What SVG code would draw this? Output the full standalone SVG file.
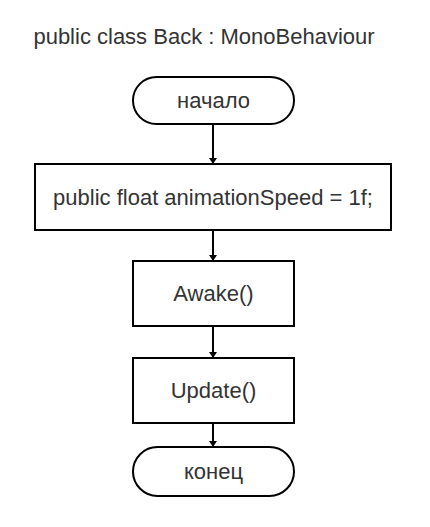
<svg xmlns="http://www.w3.org/2000/svg" width="430" height="527" viewBox="0 0 430 527">
<style>
.s{fill:#fff;stroke:#000;stroke-width:2}
.t{font-family:"Liberation Sans",Arial,sans-serif;font-size:22px;fill:#333;text-anchor:middle}
.c{stroke:#000;stroke-width:2;fill:none}
</style>
<defs>
<marker id="a" markerWidth="6" markerHeight="8" refX="5" refY="4" orient="auto" markerUnits="userSpaceOnUse">
<path d="M0,0 L6,4 L0,8 Z" fill="#000"/>
</marker>
</defs>
<rect width="430" height="527" fill="#fff"/>
<text class="t" x="204" y="44">public class Back : MonoBehaviour</text>
<g id="connectors">
<line class="c" x1="213" y1="125" x2="213" y2="163" marker-end="url(#a)"/>
<line class="c" x1="213" y1="230" x2="213" y2="260" marker-end="url(#a)"/>
<line class="c" x1="213" y1="326" x2="213" y2="357" marker-end="url(#a)"/>
<line class="c" x1="213" y1="423" x2="213" y2="446" marker-end="url(#a)"/>
</g>
<g id="start">
<rect class="s" x="133" y="77" width="161" height="47" rx="23.5"/>
<text class="t" x="213.5" y="108">начало</text>
</g>
<g id="var">
<rect class="s" x="35" y="164" width="356" height="66"/>
<text class="t" x="213" y="205">public float animationSpeed = 1f;</text>
</g>
<g id="awake">
<rect class="s" x="133" y="261" width="161" height="65"/>
<text class="t" x="213.5" y="301">Awake()</text>
</g>
<g id="update">
<rect class="s" x="133" y="358" width="161" height="65"/>
<text class="t" x="213.5" y="398">Update()</text>
</g>
<g id="end">
<rect class="s" x="133" y="447" width="161" height="49" rx="24.5"/>
<text class="t" x="213.5" y="479">конец</text>
</g>
</svg>
